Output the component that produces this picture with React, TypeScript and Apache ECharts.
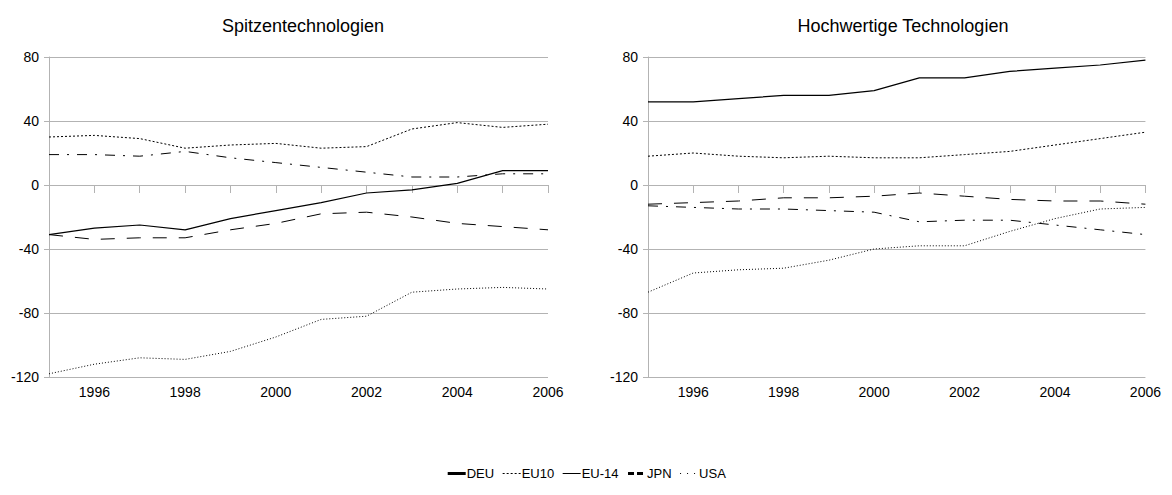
import React, { useEffect, useRef } from "react";
import * as echarts from "echarts";

const years = [1995, 1996, 1997, 1998, 1999, 2000, 2001, 2002, 2003, 2004, 2005, 2006];
const seriesNames = ["DEU", "EU10", "EU-14", "JPN", "USA"];
const leftDEU = [-31, -27, -25, -28, -21, -16, -11, -5, -3, 1, 9, 9];
const leftEU10 = [30, 31, 29, 23, 25, 26, 23, 24, 35, 39, 36, 38];
const leftEU14 = [-118, -112, -108, -109, -104, -95, -84, -82, -67, -65, -64, -65];
const leftJPN = [-31, -34, -33, -33, -28, -24, -18, -17, -20, -24, -26, -28];
const leftUSA = [19, 19, 18, 21, 17, 14, 11, 8, 5, 5, 7, 7];
const rightDEU = [52, 52, 54, 56, 56, 59, 67, 67, 71, 73, 75, 78];
const rightEU10 = [18, 20, 18, 17, 18, 17, 17, 19, 21, 25, 29, 33];
const rightEU14 = [-67, -55, -53, -52, -47, -40, -38, -38, -29, -21, -15, -14];
const rightJPN = [-12, -11, -10, -8, -8, -7, -5, -7, -9, -10, -10, -12];
const rightUSA = [-13, -14, -15, -15, -16, -17, -23, -22, -22, -25, -28, -31];
const titles = ["Spitzentechnologien", "Hochwertige Technologien"];

const styles: any = {
  DEU: { width: 1.2, type: "solid" },
  EU10: { width: 1, type: [2, 2] },
  "EU-14": { width: 1, type: [1, 2] },
  JPN: { width: 1, type: [14, 12] },
  USA: { width: 1, type: [10, 8, 2, 8] },
};
const legendStyles: any = {
  DEU: { width: 3, type: "solid" },
  EU10: { width: 1, type: [2, 2] },
  "EU-14": { width: 1, type: "solid" },
  JPN: { width: 3, type: [6, 3] },
  USA: { width: 1, type: [1, 6] },
};

export default function App() {
  const ref = useRef<HTMLDivElement>(null);
  useEffect(() => {
    const chart = echarts.init(ref.current!, null, { renderer: "svg" });
    const font = "Liberation Sans";
    const grids = [
      { left: 40, width: 500, top: 49, height: 320 },
      { left: 640, width: 500, top: 49, height: 320 },
    ];
    const data = [
      [leftDEU, leftEU10, leftEU14, leftJPN, leftUSA],
      [rightDEU, rightEU10, rightEU14, rightJPN, rightUSA],
    ];
    const axisX = (i: number) => ({
      type: "value", gridIndex: i, min: 1995, max: 2006, interval: 1,
      axisLine: { lineStyle: { color: "#b3b3b3" } },
      axisTick: { length: 8, lineStyle: { color: "#b3b3b3" } },
      splitLine: { show: false },
      axisLabel: { color: "#000", fontFamily: font, fontSize: 14,
        formatter: (v: number) => (v % 2 === 0 ? String(v) : "") },
    });
    const axisY = (i: number) => ({
      type: "value", gridIndex: i, min: -120, max: 80, interval: 40,
      axisLine: { show: true, lineStyle: { color: "#b3b3b3" } },
      axisTick: { show: true, length: 5, lineStyle: { color: "#b3b3b3" } },
      splitLine: { lineStyle: { color: "#b3b3b3" } },
      axisLabel: { color: "#000", fontFamily: font, fontSize: 14, margin: 10 },
    });
    const series: any[] = [];
    for (let g = 0; g < 2; g++) {
      seriesNames.forEach((n, k) => {
        series.push({
          name: n, type: "line", xAxisIndex: g, yAxisIndex: g, symbol: "none",
          data: years.map((y, j) => [y, data[g][k][j]]),
          lineStyle: { color: "#000", ...styles[n] },
          itemStyle: { color: "#000" },
        });
      });
    }
    chart.setOption({
      animation: false,
      title: titles.map((t, i) => ({
        text: t, left: 290 + 600 * i, top: 4, textAlign: "center",
        textStyle: { fontFamily: font, fontSize: 18, fontWeight: "normal", color: "#000" },
      })),
      legend: {
        data: seriesNames.map((n) => ({ name: n, itemStyle: { opacity: 0 }, lineStyle: { color: "#000", ...legendStyles[n] } })),
        bottom: 2, left: "center", itemWidth: 18, itemHeight: 10,
        itemGap: 8,
        textStyle: { fontFamily: font, fontSize: 13, color: "#000", padding: [0, 0, 0, -4] },
      },
      grid: grids,
      xAxis: [axisX(0), axisX(1)],
      yAxis: [axisY(0), axisY(1)],
      series,
    });
    return () => chart.dispose();
  }, []);
  return <div ref={ref} style={{ width: 1156, height: 479 }} />;
}
